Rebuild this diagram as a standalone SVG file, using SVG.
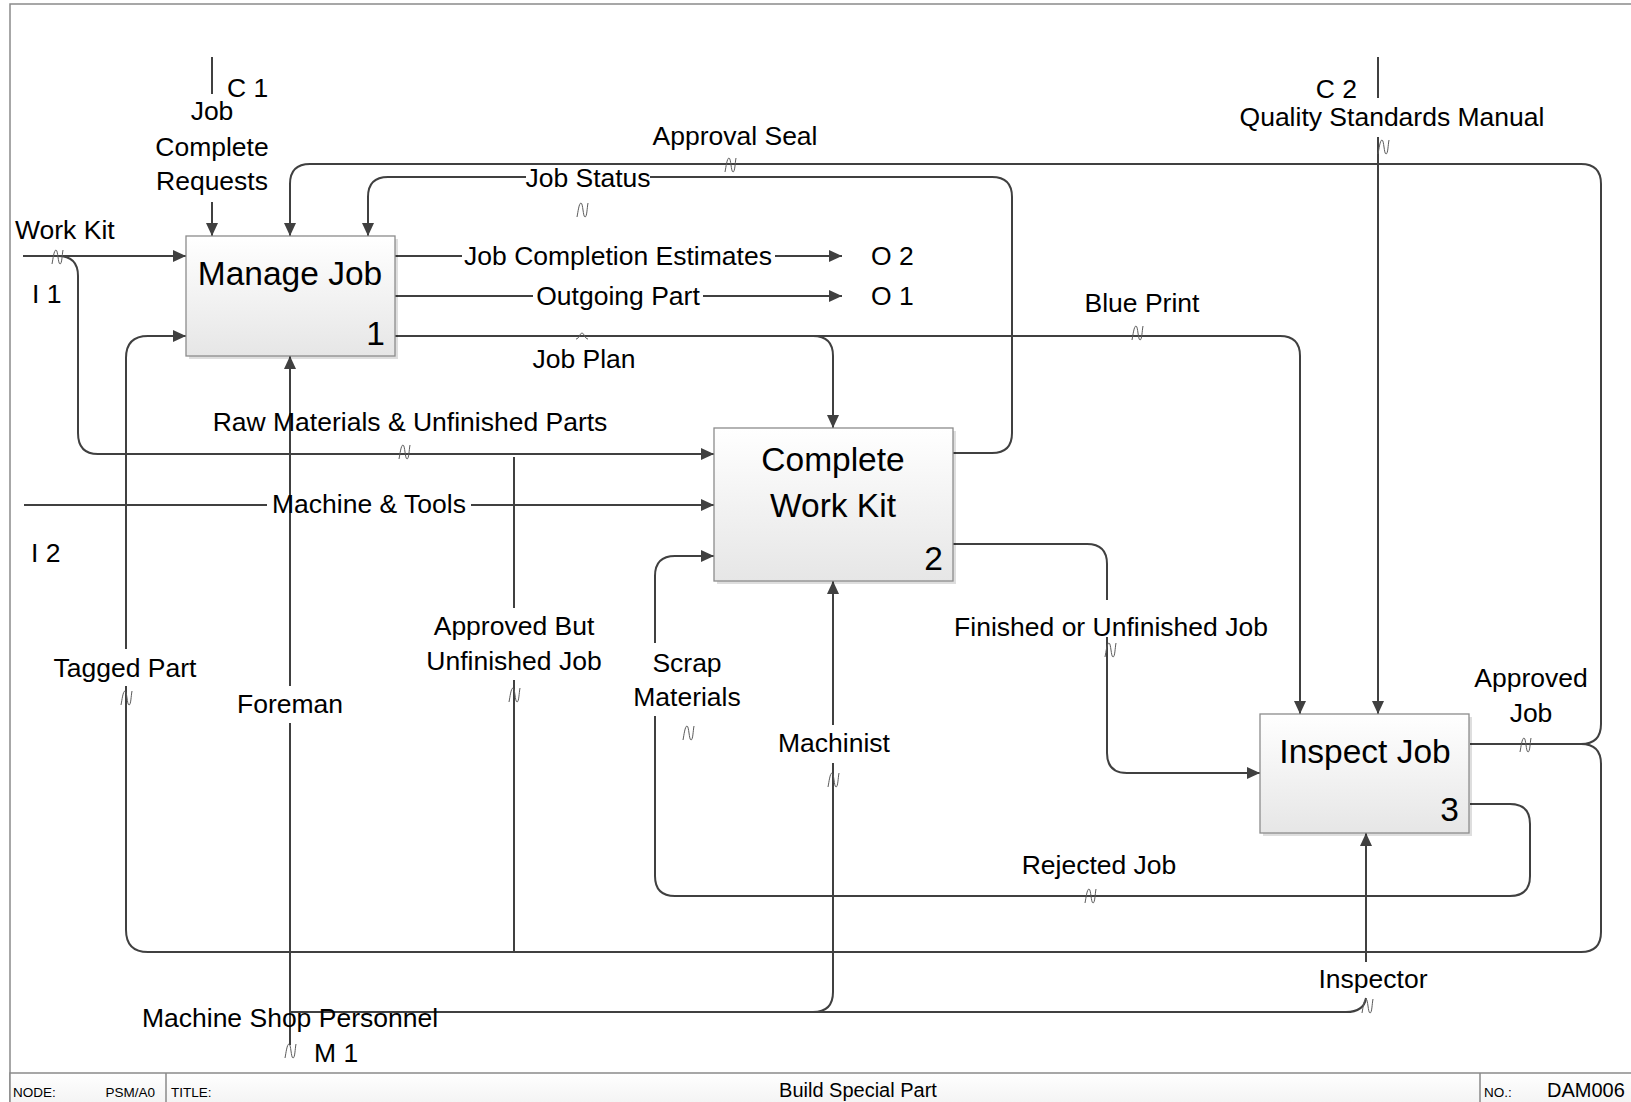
<svg xmlns="http://www.w3.org/2000/svg" width="1631" height="1102" viewBox="0 0 1631 1102">
<defs>
  <linearGradient id="boxg" x1="0" y1="0" x2="0" y2="1">
    <stop offset="0" stop-color="#ffffff"/>
    <stop offset="1" stop-color="#e6e6e6"/>
  </linearGradient>
  <linearGradient id="tbg" x1="0" y1="0" x2="0" y2="1">
    <stop offset="0" stop-color="#ffffff"/>
    <stop offset="1" stop-color="#f0f0f0"/>
  </linearGradient>
  <marker id="ah" markerWidth="14" markerHeight="12" refX="13" refY="6" orient="auto" markerUnits="userSpaceOnUse">
    <path d="M0,0 L13,6 L0,12 Z" fill="#404040"/>
  </marker>
  <path id="sq" d="M-5,7 C-4,2 -3,-7 -1,-7 C1,-7 1,7 3,7 C5,7 5,-2 6,-7"/>
</defs>
<style>
  .c{fill:none;stroke:#404040;stroke-width:2}
  .a{marker-end:url(#ah)}
  text{font-family:"Liberation Sans",Arial,sans-serif;fill:#000}
  .l{font-size:26.5px}
  .t{font-size:33.5px}
  .s{font-size:13.5px}
  .b{font-size:20px}
  .m{text-anchor:middle}
  .e{text-anchor:end}
  .sq{fill:none;stroke:#5a5a5a;stroke-width:1}
  .box{fill:url(#boxg);stroke:#8c8c8c;stroke-width:1.3}
  .shd{fill:#000;opacity:0.13}
  .fr{fill:none;stroke:#8a8a8a;stroke-width:1.5}
</style>

<g id="frame">
  <rect class="fr" x="10" y="4" width="1640" height="1120"/>
  <rect x="10" y="1073" width="1640" height="40" fill="url(#tbg)" stroke="#8a8a8a" stroke-width="1.5"/>
  <line x1="166" y1="1073" x2="166" y2="1102" stroke="#8a8a8a" stroke-width="1.5"/>
  <line x1="1480" y1="1073" x2="1480" y2="1102" stroke="#8a8a8a" stroke-width="1.5"/>
  <text class="s" x="13" y="1097">NODE:</text>
  <text class="s e" x="155" y="1097">PSM/A0</text>
  <text class="s" x="171" y="1097">TITLE:</text>
  <text class="b m" x="858" y="1097">Build Special Part</text>
  <text class="s" x="1484" y="1097">NO.:</text>
  <text class="b" x="1547" y="1097">DAM006</text>
</g>

<g id="connectors">
  <!-- C1 Job Complete Requests -->
  <path class="c" d="M212,57 V94"/>
  <path class="c a" d="M212,202 V236"/>
  <!-- I1 Work Kit -->
  <path class="c a" d="M23,256 H186"/>
  <!-- Raw Materials & Unfinished Parts (branch of Work Kit) -->
  <path class="c a" d="M56,256 H58 Q78,256 78,276 V433 Q78,454 98,454 H714"/>
  <!-- I2 Machine & Tools -->
  <path class="c" d="M24,505 H267"/>
  <path class="c a" d="M471,505 H714"/>
  <!-- Job Completion Estimates O2 -->
  <path class="c" d="M395,256 H462"/>
  <path class="c a" d="M775,256 H842"/>
  <!-- Outgoing Part O1 -->
  <path class="c" d="M395,296 H533"/>
  <path class="c a" d="M703,296 H842"/>
  <!-- Job Plan -->
  <path class="c a" d="M395,336 H813 Q833,336 833,356 V428"/>
  <!-- Blue Print -->
  <path class="c a" d="M813,336 H1280 Q1300,336 1300,356 V714"/>
  <!-- Job Status -->
  <path class="c" d="M953,453 H992 Q1012,453 1012,433 V197 Q1012,177 992,177 H650"/>
  <path class="c a" d="M526,177 H388 Q368,177 368,197 V236"/>
  <!-- Approval Seal -->
  <path class="c a" d="M1470,744 H1581 Q1601,744 1601,724 V184 Q1601,164 1581,164 H310 Q290,164 290,184 V236"/>
  <!-- Approved Job loop / Tagged Part -->
  <path class="c" d="M1581,744 Q1601,744 1601,764 V932 Q1601,952 1581,952 H148 Q126,952 126,930 V686"/>
  <path class="c a" d="M126,649 V358 Q126,336 148,336 H186"/>
  <!-- Approved But Unfinished Job -->
  <path class="c" d="M514,952 V680"/>
  <path class="c" d="M514,608 V457"/>
  <!-- M1 Machine Shop Personnel / Foreman -->
  <path class="c" d="M290,1045 V723"/>
  <path class="c a" d="M290,686 V356"/>
  <!-- Machinist -->
  <path class="c" d="M290,1012 H813 Q833,1012 833,992 V763"/>
  <path class="c a" d="M833,725 V581"/>
  <!-- Inspector -->
  <path class="c" d="M813,1012 H1346 Q1364,1012 1366,998"/>
  <path class="c a" d="M1366,962 V833"/>
  <!-- Rejected Job / Scrap Materials -->
  <path class="c" d="M1470,804 H1510 Q1530,804 1530,824 V876 Q1530,896 1510,896 H675 Q655,896 655,876 V716"/>
  <path class="c a" d="M655,643 V576 Q655,556 675,556 H714"/>
  <!-- Finished or Unfinished Job -->
  <path class="c" d="M953,544 H1087 Q1107,544 1107,564 V600"/>
  <path class="c a" d="M1107,637 V753 Q1107,773 1127,773 H1260"/>
  <!-- C2 Quality Standards Manual -->
  <path class="c" d="M1378,57 V98"/>
  <path class="c a" d="M1378,137 V714"/>
  <!-- squiggles -->
  <g class="sq">
    <use href="#sq" x="57" y="257"/>
    <use href="#sq" x="404" y="452"/>
    <use href="#sq" x="582" y="210"/>
    <use href="#sq" x="730" y="165"/>
    <use href="#sq" x="1137" y="333"/>
    <use href="#sq" x="1383" y="147"/>
    <use href="#sq" x="126" y="698"/>
    <use href="#sq" x="514" y="695"/>
    <use href="#sq" x="688" y="733"/>
    <use href="#sq" x="833" y="780"/>
    <use href="#sq" x="1110" y="650"/>
    <use href="#sq" x="1525" y="745"/>
    <use href="#sq" x="1090" y="896"/>
    <use href="#sq" x="1367" y="1006"/>
    <use href="#sq" x="290" y="1051"/>
  </g>
  <path class="sq" d="M576,339 C579,339 580,333 582,333 C584,333 585,339 588,339"/>
</g>

<g id="node1">
  <rect class="shd" x="189" y="239" width="209" height="120"/>
  <rect class="box" x="186" y="236" width="209" height="120"/>
  <text class="t m" x="290" y="285">Manage Job</text>
  <text class="t e" x="385" y="345">1</text>
</g>
<g id="node2">
  <rect class="shd" x="717" y="431" width="239" height="153"/>
  <rect class="box" x="714" y="428" width="239" height="153"/>
  <text class="t m" x="833" y="471">Complete</text>
  <text class="t m" x="833" y="517">Work Kit</text>
  <text class="t e" x="943" y="570">2</text>
</g>
<g id="node3">
  <rect class="shd" x="1263" y="717" width="209" height="119"/>
  <rect class="box" x="1260" y="714" width="209" height="119"/>
  <text class="t m" x="1365" y="763">Inspect Job</text>
  <text class="t e" x="1459" y="821">3</text>
</g>

<g id="labels">
  <text class="l" x="227" y="97">C 1</text>
  <text class="l m" x="212" y="120">Job</text>
  <text class="l m" x="212" y="156">Complete</text>
  <text class="l m" x="212" y="190">Requests</text>
  <text class="l" x="15" y="239">Work Kit</text>
  <text class="l" x="32" y="303">I 1</text>
  <text class="l" x="31" y="562">I 2</text>
  <text class="l m" x="410" y="431">Raw Materials &amp; Unfinished Parts</text>
  <text class="l m" x="369" y="513">Machine &amp; Tools</text>
  <text class="l m" x="618" y="265">Job Completion Estimates</text>
  <text class="l" x="871" y="265">O 2</text>
  <text class="l m" x="618" y="305">Outgoing Part</text>
  <text class="l" x="871" y="305">O 1</text>
  <text class="l m" x="584" y="368">Job Plan</text>
  <text class="l m" x="1142" y="312">Blue Print</text>
  <text class="l m" x="588" y="187">Job Status</text>
  <text class="l m" x="735" y="145">Approval Seal</text>
  <text class="l e" x="1357" y="98">C 2</text>
  <text class="l m" x="1392" y="126">Quality Standards Manual</text>
  <text class="l m" x="1531" y="687">Approved</text>
  <text class="l m" x="1531" y="722">Job</text>
  <text class="l m" x="125" y="677">Tagged Part</text>
  <text class="l m" x="514" y="635">Approved But</text>
  <text class="l m" x="514" y="670">Unfinished Job</text>
  <text class="l m" x="290" y="713">Foreman</text>
  <text class="l m" x="687" y="672">Scrap</text>
  <text class="l m" x="687" y="706">Materials</text>
  <text class="l m" x="834" y="752">Machinist</text>
  <text class="l m" x="1111" y="636">Finished or Unfinished Job</text>
  <text class="l m" x="1099" y="874">Rejected Job</text>
  <text class="l m" x="1373" y="988">Inspector</text>
  <text class="l m" x="290" y="1027">Machine Shop Personnel</text>
  <text class="l" x="314" y="1062">M 1</text>
</g>
</svg>
